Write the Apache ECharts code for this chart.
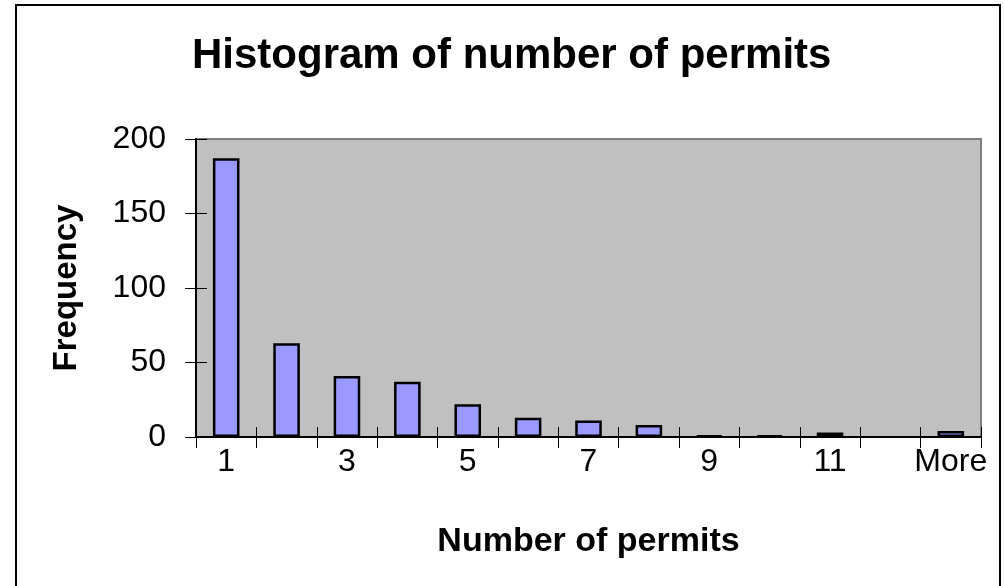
<!DOCTYPE html>
<html>
<head>
<meta charset="utf-8">
<script src="https://cdn.jsdelivr.net/npm/echarts@6/dist/echarts.min.js"></script>
<style>
  html, body { margin: 0; padding: 0; background: #fff; }
  #chart { width: 1004px; height: 586px; }
</style>
</head>
<body>
<div id="chart"></div>
<script>
// bins and counts
var categories = ['1', '2', '3', '4', '5', '6', '7', '8', '9', '10', '11', '12', 'More'];
var frequency = [187, 63, 41, 37, 22, 13, 11, 8, 1, 1, 3, 0, 4];
var yTicks = [0, 50, 100, 150, 200];

var font = 'Liberation Sans, Arial, sans-serif';

var myChart = echarts.init(document.getElementById('chart'));

var option = {
  backgroundColor: '#fff',
  animation: false,
  title: {
    text: 'Histogram of number of permits',
    left: 187,
    top: 30,
    textStyle: { fontFamily: font, fontSize: 42, fontWeight: 'bold', color: '#000' }
  },
  grid: {
    left: 196, right: 23, top: 139, bottom: 149,
    show: true,
    backgroundColor: '#c0c0c0',
    borderColor: '#808080',
    borderWidth: 2
  },
  xAxis: [
    {
      type: 'category',
      data: categories,
      position: 'bottom',
      name: 'Number of permits',
      nameLocation: 'middle',
      nameGap: 88,
      nameTextStyle: { fontFamily: font, fontSize: 34, fontWeight: 'bold', color: '#000' },
      axisLine: { show: true, lineStyle: { color: '#000', width: 2 } },
      axisTick: { show: true, inside: false, length: 11, interval: 0, lineStyle: { color: '#000' } },
      axisLabel: { interval: 1, margin: 9, fontFamily: font, fontSize: 32, color: '#000' },
      splitLine: { show: false }
    },
    {
      // second copy only for the inner half of the crossing ticks
      type: 'category',
      data: categories,
      position: 'bottom',
      axisLine: { show: false },
      axisTick: { show: true, inside: true, length: 10, interval: 0, lineStyle: { color: '#000' } },
      axisLabel: { show: false },
      splitLine: { show: false }
    }
  ],
  yAxis: [
    {
      type: 'value',
      min: yTicks[0],
      max: yTicks[yTicks.length - 1],
      interval: 50,
      name: 'Frequency',
      nameLocation: 'middle',
      nameGap: 113,
      nameRotate: 90,
      nameTextStyle: { fontFamily: font, fontSize: 33, fontWeight: 'bold', color: '#000' },
      axisLine: { show: true, lineStyle: { color: '#000', width: 2 } },
      axisTick: { show: true, inside: false, length: 11, lineStyle: { color: '#000' } },
      axisLabel: { margin: 30, fontFamily: font, fontSize: 32, color: '#000' },
      splitLine: { show: false }
    },
    {
      type: 'value',
      position: 'left',
      min: yTicks[0],
      max: yTicks[yTicks.length - 1],
      interval: 50,
      axisLine: { show: false },
      axisTick: { show: true, inside: true, length: 11, lineStyle: { color: '#000' } },
      axisLabel: { show: false },
      splitLine: { show: false }
    }
  ],
  series: [
    {
      name: 'Frequency',
      type: 'bar',
      // empty bins get no bar at all (no outline either)
      data: frequency.map(function (v) { return v === 0 ? '-' : v; }),
      barWidth: '44%',
      itemStyle: { color: '#9999ff', borderColor: '#000', borderWidth: 2.5 }
    }
  ],
  graphic: [
    {
      type: 'rect',
      shape: { x: 16, y: 5, width: 984, height: 620 },
      style: { fill: 'none', stroke: '#000', lineWidth: 2 },
      z: 100
    }
  ]
};

myChart.setOption(option);
</script>
</body>
</html>
